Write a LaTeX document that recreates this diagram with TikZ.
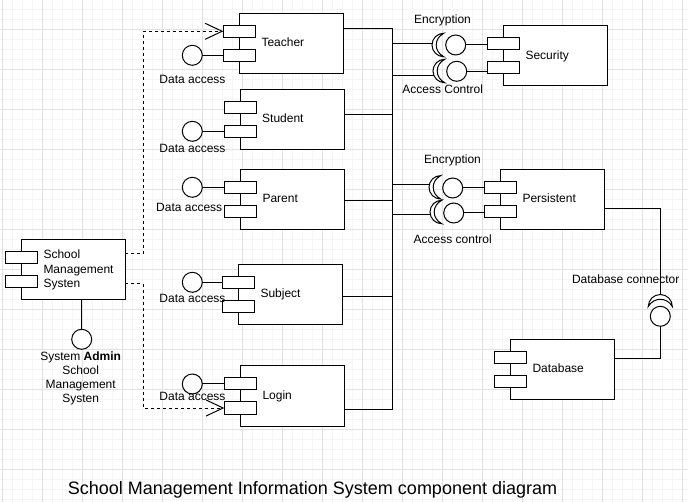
\documentclass[tikz,border=0pt]{standalone}
\usepackage{fontspec}
\setmainfont{Liberation Sans}
\usetikzlibrary{arrows.meta,calc}
\definecolor{gridmajor}{RGB}{225,225,225}
\definecolor{gridminor}{RGB}{245,245,245}
\newcommand\umlcomp[4]{%
  \node[compbox] (#1) at (#2+52,#3+30) {};
  \node[portbox] (#1-p1) at (#2,#3+18) {};
  \node[portbox] (#1-p2) at (#2,#3+42) {};
  \node[complabel] (#1-t) at (#2+22,#3+33.6) {#4};
}
\newcommand\socketW[4]{% centre x, centre y, radius, inner control
  \path[socket] (#1,#2+#3) arc[start angle=90,end angle=270,radius=#3]
    .. controls (#1-#4,#2-0.55*#3) and (#1-#4,#2+0.55*#3) .. (#1,#2+#3) -- cycle;
}
\newcommand\socketS[4]{% opening downward
  \path[socket] (#1+#3,#2) arc[start angle=0,end angle=-180,radius=#3]
    .. controls (#1-0.55*#3,#2-#4) and (#1+0.55*#3,#2-#4) .. (#1+#3,#2) -- cycle;
}
\begin{document}
\begin{tikzpicture}[
  x=1pt, y=-1pt,
  conn/.style={draw=black, line width=1pt},
  compbox/.style={draw=black, fill=white, line width=1pt, minimum width=104pt, minimum height=60pt, inner sep=0pt, outer sep=0pt},
  portbox/.style={draw=black, fill=white, line width=1pt, minimum width=32pt, minimum height=12pt, inner sep=0pt, outer sep=0pt},
  complabel/.style={anchor=base west, inner sep=0pt, font=\fontsize{12}{14.2}\selectfont},
  lbl/.style={anchor=base, inner sep=0pt, font=\fontsize{12}{14.2}\selectfont},
  ball/.style={circle, draw=black, fill=white, line width=1pt, minimum size=20pt, inner sep=0pt, outer sep=0pt},
  socket/.style={draw=black, fill=white, line width=1pt},
  depend/.style={draw=black, line width=1pt, dash pattern=on 3pt off 3pt, -{Straight Barb[length=17pt,width=16pt]}},
  minorline/.style={draw=gridminor, line width=1pt},
  majorline/.style={draw=gridmajor, line width=1pt},
]
\useasboundingbox (0,0) rectangle (688,502);
\fill[white] (0,0) rectangle (688,502);
% grid
\foreach \i in {0,...,68} { \draw[minorline] (2.7+10*\i,0) -- (2.7+10*\i,502); }
\foreach \j in {0,...,49} { \draw[minorline] (0,9.3+10*\j) -- (688,9.3+10*\j); }
\foreach \i in {0,...,17} { \draw[majorline] (2.7+40*\i,0) -- (2.7+40*\i,502); }
\foreach \j in {0,...,11} { \draw[majorline] (0,29.3+40*\j) -- (688,29.3+40*\j); }

% components
\umlcomp{teacher}{239.3}{13.3}{Teacher}
\umlcomp{student}{240}{89.3}{Student}
\umlcomp{parent}{240.3}{169.3}{Parent}
\umlcomp{subject}{238.3}{264.3}{Subject}
\umlcomp{login}{240.3}{366}{Login}
\umlcomp{security}{503.3}{26}{Security}
\umlcomp{persistent}{500.3}{169.3}{Persistent}
\umlcomp{database}{510.3}{339.3}{Database}

\node[compbox] (sms) at (73.3,269.3) {};
\node[portbox] (sms-p1) at (21,257.3) {};
\node[portbox] (sms-p2) at (21,281.3) {};
\node[anchor=base west, inner sep=0pt, align=left, font=\fontsize{12}{14.3}\selectfont] (sms-t) at (43.3,287.6) {School\\Management\\Systen};

% provided interfaces (balls)
\node[ball] (bT) at (192.3,55.3) {};
\node[ball] (bS) at (192.3,131.3) {};
\node[ball] (bP) at (192.3,187.3) {};
\node[ball] (bSub) at (192.3,282.3) {};
\node[ball] (bL) at (192.3,384) {};
\node[ball] (bA) at (81.7,339.3) {};
\node[ball] (se1) at (455.7,45) {};
\node[ball] (se2) at (456.7,71.3) {};
\node[ball] (pe1) at (452.7,188) {};
\node[ball] (pe2) at (453.7,213) {};
\node[ball] (dbb) at (660.3,316.3) {};

% labels
\node[lbl] (lT) at (192.5,83.3) {Data access};
\node[lbl] (lS) at (192.5,152.6) {Data access};
\node[lbl] (lP) at (189.2,212) {Data access};
\node[lbl] (lSub) at (192.5,302.6) {Data access};
\node[lbl] (lL) at (192.5,401) {Data access};
\node[lbl, align=center] (lA) at (80.7,402.9) {System \textbf{Admin}\\School\\Management\\Systen};
\node[lbl] (lse1) at (442.5,23.3) {Encryption};
\node[lbl] (lse2) at (442.7,93.3) {Access Control};
\node[lbl] (lpe1) at (452.5,163.3) {Encryption};
\node[lbl] (lpe2) at (452.7,243.3) {Access control};
\node[lbl] (ldb) at (625.7,283.3) {Database connector};

% lollipop connectors
\draw[conn] (bT.east) -- (teacher-p2.west);
\draw[conn] (bS.east) -- (student-p2.west);
\draw[conn] (bP.east) -- (parent-p1.west);
\draw[conn] (bSub.east) -- (subject-p1.west);
\draw[conn] (bL.east) -- (login-p1.west);
\draw[conn] (bA.north) -- (bA.north |- sms.south);
\draw[conn] (se1.east) -- (se1.east -| security-p1.west);
\draw[conn] (se2.east) -- (se2.east -| security-p2.west);
\draw[conn] (pe1.east) -- (pe1.east -| persistent-p1.west);
\draw[conn] (pe2.east) -- (pe2.east -| persistent-p2.west);

% dependencies
\coordinate (d1) at (143,254);
\coordinate (d2) at (143,283.5);
\draw[depend] (sms.east |- d1) -- (d1) |- (teacher-p1.west);
\draw[depend] (sms.east |- d2) -- (d2) |- (login-p2.west);

% bus
\coordinate (busT) at (392.3,28.3);
\coordinate (busB) at (392.3,409);
\coordinate (busS) at (392.3,114.3);
\coordinate (busP) at (392.3,200.3);
\coordinate (busSub) at (392.3,297);
\draw[conn] (teacher.east |- busT) -- (busT) -- (busB) -- (login.east |- busB);
\draw[conn] (student.east |- busS) -- (busS);
\draw[conn] (parent.east |- busP) -- (busP);
\draw[conn] (subject.east |- busSub) -- (busSub);

\coordinate (bE1) at (392.3,44);
\coordinate (bE2) at (392.3,75.3);
\coordinate (bE3) at (392.3,184.7);
\coordinate (bE4) at (392.3,214.7);
\coordinate (se1w) at (434,45);
\coordinate (se2w) at (435,71);
\coordinate (pe1w) at (431,187.3);
\coordinate (pe2w) at (432,212);
\draw[conn] (bE1) -- (bE1 -| se1w);
\draw[conn] (bE2) -- (bE2 -| se2w);
\draw[conn] (bE3) -- (bE3 -| pe1w);
\draw[conn] (bE4) -- (bE4 -| pe2w);

% persistent to database
\coordinate (pd) at (660.3,208.3);
\coordinate (dbtop) at (660.3,296.5);
\coordinate (dbl) at (660.3,358.3);
\draw[conn] (persistent.east |- pd) -- (pd) -- (dbtop);
\draw[conn] (dbb.south) -- (dbl) -- (database.east |- dbl);

% required interfaces (sockets)
\socketW{443.7}{45}{11.7}{10}
\socketW{444.7}{71}{11.7}{10}
\socketW{440.7}{187.3}{11.7}{10}
\socketW{441.7}{212}{11.7}{10}
\socketS{660.3}{306.5}{12}{9.6}

% title
\node[anchor=base, inner sep=0pt, font=\fontsize{18}{21.6}\selectfont] (title) at (312.5,494.3) {School Management Information System component diagram};
\end{tikzpicture}
\end{document}
